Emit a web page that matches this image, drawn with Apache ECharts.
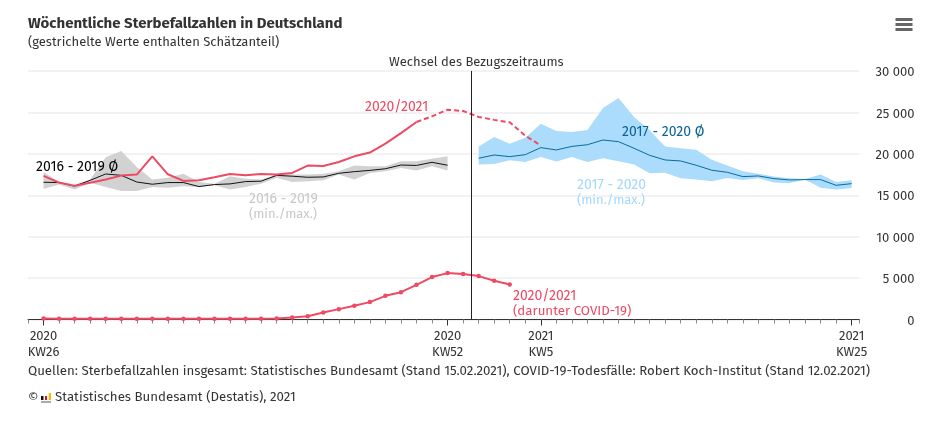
<!DOCTYPE html>
<html><head><meta charset="utf-8">
<style>html,body{margin:0;padding:0;background:#fff}#c{width:950px;height:424px}</style>
<script src="https://cdn.jsdelivr.net/npm/echarts@6/dist/echarts.min.js"></script>
</head><body><div id="c"></div>
<script>
const tickPositions = [0, 26, 32, 52];
const tickLabels = ['2020\nKW26', '2020\nKW52', '2021\nKW5', '2021\nKW25'];
const changeWeek = 27.53;

const avg1619 = [16570,16530,16100,16800,17570,17400,16600,16330,16530,16530,16050,16290,16370,16650,16700,17400,17300,17170,17210,17650,17850,18000,18200,18650,18600,18980,18620];
const max1619 = [17800,16600,16300,16900,19600,20350,18400,16900,17100,17600,16600,16400,17300,17000,16900,17500,17500,17500,17600,17900,18600,18500,18500,19100,19100,19400,19700];
const min1619 = [15760,16300,15700,16500,16000,15500,15500,16000,15900,16100,16000,16200,15700,16000,16400,17100,16600,16700,16800,17500,16900,17700,17900,18300,18000,18500,18000];

const avg1720 = [19470,19860,19660,19900,20750,20470,20900,21100,21670,21470,20670,19820,19260,19140,18620,18020,17770,17250,17330,17010,16850,16890,16890,16200,16400];
const max1720 = [20900,22030,21230,21950,23640,22760,22640,22880,25530,26740,24450,22840,20900,20670,20500,19300,18600,17900,17600,17250,17050,16970,17500,16600,16800];
const min1720 = [18700,18780,19220,19020,19620,19060,19620,19020,19460,19100,18700,17650,17730,17050,16890,16690,17090,16850,17050,16530,16450,16890,15920,15700,15880];
const start1720 = 28;

const deathsSolid = [17330,16530,16130,16500,16900,17370,17500,19700,17530,16730,16800,17170,17570,17400,17570,17500,17700,18580,18540,19020,19700,20150,21230,22500,23840];
const deathsDashed = [23840,24530,25330,25170,24450,24100,23800,22200,21000];
const startDashed = 24;
const covid = [110,100,90,80,80,80,80,80,80,80,80,80,80,90,100,130,250,400,850,1250,1650,2100,2860,3300,4190,5120,5600,5480,5240,4670,4230];

const RED = '#ee4a64', FONT = '"Fira Sans","Noto Sans",sans-serif', TXT = '#333';
const xy = (arr, s = 0) => arr.map((v, i) => [i + s, v]);
const band = (name, lo, hi, s, color) => ({
  name, type: 'custom', silent: true, coordinateSystem: 'cartesian2d', clip: true,
  encode: {x: 0, y: [1, 2]},
  data: lo.map((v, i) => [i + s, v, hi[i]]),
  renderItem: (params, api) => {
    if (params.dataIndex !== 0) return null;
    const upper = hi.map((v, i) => api.coord([i + s, v]));
    const lower = lo.map((v, i) => api.coord([i + s, v])).reverse();
    return {type: 'polygon', shape: {points: upper.concat(lower)}, style: {fill: color}};
  }
});
const label = (x, y, text, fill, size = 13) => ({type: 'text', z: 100, x, y, silent: true, style: {text, fill, font: size + 'px ' + FONT, lineHeight: 15}});
const rect = (x, y, width, height, fill) => ({type: 'rect', z: 100, silent: true, shape: {x, y, width, height}, style: {fill}});

const chart = echarts.init(document.getElementById('c'), null, {renderer: 'canvas'});
chart.setOption({
  animation: false,
  backgroundColor: '#fff',
  textStyle: {fontFamily: FONT},
  title: {
    text: 'Wöchentliche Sterbefallzahlen in Deutschland',
    subtext: '(gestrichelte Werte enthalten Schätzanteil)',
    left: 28, top: 16, padding: 0, itemGap: 5,
    textStyle: {fontFamily: FONT, fontSize: 15, fontWeight: 'bold', color: TXT},
    subtextStyle: {fontFamily: FONT, fontSize: 13, color: TXT}
  },
  grid: {left: 28, right: 90.6, top: 71, bottom: 104.5},
  xAxis: [{
    type: 'value', min: -1, max: 52.5, interval: 1,
    splitLine: {show: false},
    axisLine: {show: true, onZero: false, lineStyle: {color: '#333', width: 1}},
    axisTick: {show: true, length: 4, lineStyle: {color: '#888'}},
    axisLabel: {show: false}
  }, {
    type: 'value', min: -1, max: 52.5, position: 'bottom',
    splitLine: {show: false},
    axisLine: {show: false},
    axisTick: {show: true, length: 6, lineStyle: {color: '#333'}, customValues: tickPositions},
    axisLabel: {
      show: true, color: TXT, fontSize: 13, fontFamily: FONT, lineHeight: 16, margin: 9,
      customValues: tickPositions,
      formatter: v => tickLabels[tickPositions.indexOf(v)] || ''
    }
  }],
  yAxis: {
    type: 'value', min: 0, max: 30000, interval: 5000, position: 'right',
    axisLine: {show: false}, axisTick: {show: false},
    splitLine: {lineStyle: {color: '#f2f2f2', width: 2}},
    axisLabel: {
      color: TXT, fontSize: 13, fontFamily: FONT, align: 'right', margin: 55,
      rich: {v: {color: TXT, fontSize: 13, fontFamily: FONT, padding: [3, 0, 0, 0]}},
      formatter: v => '{v|' + String(v).replace(/\B(?=(\d{3})+$)/g, ' ') + '}'
    }
  },
  series: [
    band('2016 - 2019 (min./max.)', min1619, max1619, 0, '#d2d2d2'),
    band('2017 - 2020 (min./max.)', min1720, max1720, start1720, '#abdcfb'),
    {name: '2016 - 2019 Ø', type: 'line', data: xy(avg1619), symbol: 'none', lineStyle: {color: '#111', width: 1}},
    {name: '2017 - 2020 Ø', type: 'line', data: xy(avg1720, start1720), symbol: 'none', lineStyle: {color: '#0b6a9c', width: 1}},
    {name: '2020/2021', type: 'line', data: xy(deathsSolid), symbol: 'none', lineStyle: {color: RED, width: 2}},
    {name: '2020/2021 geschätzt', type: 'line', data: xy(deathsDashed, startDashed), symbol: 'none', lineStyle: {color: RED, width: 2, type: [5, 3]},
      markLine: {
        silent: true, symbol: 'none', animation: false,
        lineStyle: {color: '#222', width: 1, type: 'solid'},
        label: {show: true, position: 'end', formatter: 'Wechsel des Bezugszeitraums', color: TXT, fontSize: 13, fontFamily: FONT, distance: 2, offset: [5, 0]},
        data: [{xAxis: changeWeek}]
      }},
    {name: '2020/2021 (darunter COVID-19)', type: 'line', clip: false, data: xy(covid), symbol: 'circle', symbolSize: 4.5, itemStyle: {color: RED}, lineStyle: {color: RED, width: 2}}
  ],
  graphic: [
    label(36, 160, '2016 - 2019 Ø', '#000', 14),
    label(249, 192, '2016 - 2019', '#c8c8c8', 14),
    label(249, 207, '(min./max.)', '#c8c8c8'),
    label(365, 100, '2020/2021', RED, 14),
    label(622, 125, '2017 - 2020 Ø', '#0a6398', 14),
    label(577, 178, '2017 - 2020', '#a3d9fb', 14),
    label(577, 193, '(min./max.)', '#a3d9fb'),
    label(513, 289, '2020/2021', RED, 14),
    label(513, 304, '(darunter COVID-19)', RED, 13.3),
    label(28, 364, 'Quellen: Sterbefallzahlen insgesamt: Statistisches Bundesamt (Stand 15.02.2021), COVID-19-Todesfälle: Robert Koch-Institut (Stand 12.02.2021)', TXT, 13.25),
    label(28, 390, '©', TXT),
    label(55, 390, 'Statistisches Bundesamt (Destatis), 2021', TXT, 13.25),
    rect(41, 396, 2.5, 4, '#111'), rect(45, 396, 2, 4, '#d0121b'), rect(48.7, 393, 2.3, 7, '#f5b800'), rect(41, 401, 10, 2, '#aaa'),
    rect(895.5, 18, 17, 3, '#666'), rect(895.5, 23, 17, 3, '#666'), rect(895.5, 28, 17, 3, '#666')
  ]
});
</script></body></html>
